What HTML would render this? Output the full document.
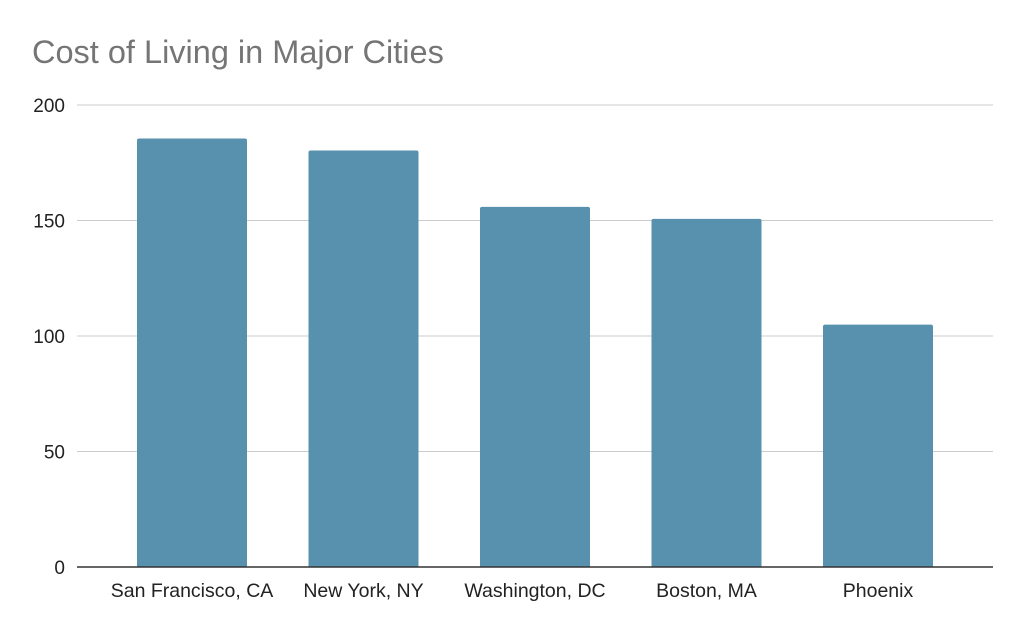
<!DOCTYPE html>
<html><head><meta charset="utf-8"><style>
html,body{margin:0;padding:0;background:#fff;width:1024px;height:633px;overflow:hidden}
svg{display:block;font-family:"Liberation Sans",Arial,sans-serif}
</style></head><body>
<svg id="chart" width="1024" height="633" viewBox="0 0 1024 633">
<rect width="1024" height="633" fill="#fff"/>
<text x="32" y="63" font-size="32.5" fill="#757575">Cost of Living in Major Cities</text>
<g id="grid"></g><g id="bars"></g><g id="labels"></g>
</svg>
<script>
const categories = ["San Francisco, CA","New York, NY","Washington, DC","Boston, MA","Phoenix"];
const values = [185.5, 180.3, 155.9, 150.7, 104.9];
const ticks = [0, 50, 100, 150, 200];
const ns = "http://www.w3.org/2000/svg";
const left = 77, right = 993, y0 = 567, yTop = 105, yMax = 200;
const yScale = v => y0 - (v / yMax) * (y0 - yTop);
const firstCenter = 192, step = 171.5;
const barW = 110;
const xCenter = i => firstCenter + step * i;
const grid = document.getElementById('grid');
const bars = document.getElementById('bars');
const labels = document.getElementById('labels');
function mk(tag, attrs){const e=document.createElementNS(ns,tag);for(const k in attrs)e.setAttribute(k,attrs[k]);return e;}
ticks.forEach(t=>{
  const y=yScale(t);
  if(t!==0){
    const l=mk('line',{x1:left,x2:right,y1:y,y2:y,stroke:'#cccccc','stroke-width':1});
    
    
    grid.appendChild(l);
  }
  const tx=mk('text',{x:65,y:y+7,'text-anchor':'end','font-size':19,fill:'#222'});
  tx.textContent=t;
  
  
  labels.appendChild(tx);
});
values.forEach((v,i)=>{
  const cx=xCenter(i), y=yScale(v);
  const r=mk('path',{d:`M${cx-barW/2},${y0} V${y+2} Q${cx-barW/2},${y} ${cx-barW/2+2},${y} H${cx+barW/2-2} Q${cx+barW/2},${y} ${cx+barW/2},${y+2} V${y0} Z`,fill:'#5891ad'});
  
  
  bars.appendChild(r);
  const tx=mk('text',{x:cx,y:597,'text-anchor':'middle','font-size':19.5,fill:'#222'});
  tx.textContent=categories[i];
  
  
  labels.appendChild(tx);
});
const ax=mk('line',{x1:left,x2:right,y1:y0,y2:y0,stroke:'#333','stroke-width':1.5});


labels.appendChild(ax);
</script>
</body></html>
